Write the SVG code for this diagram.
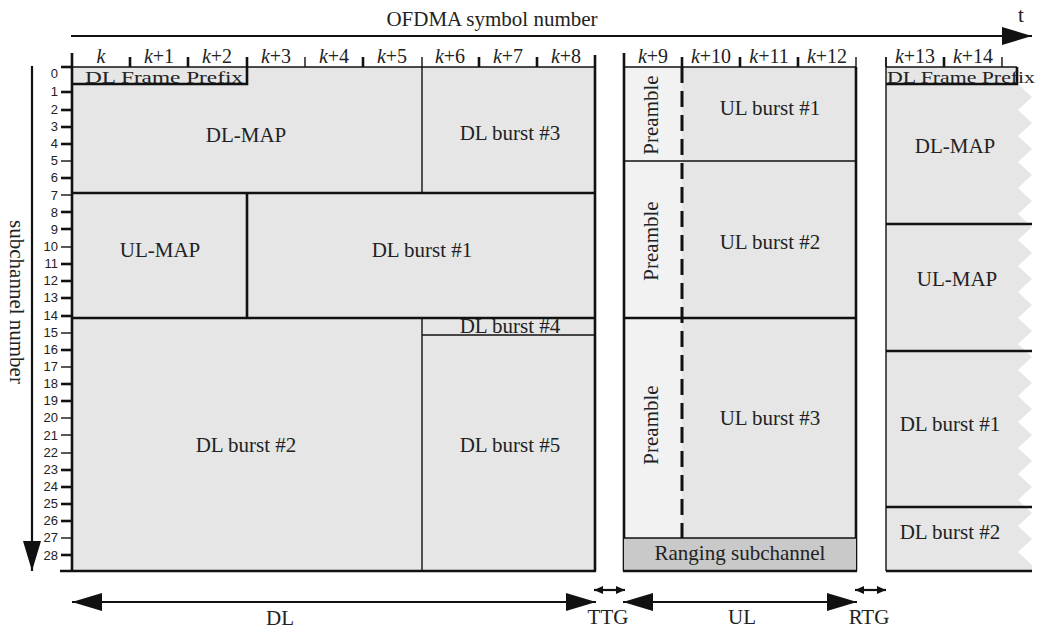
<svg xmlns="http://www.w3.org/2000/svg" width="1037" height="630" viewBox="0 0 1037 630">
<style>
.bg{fill:#ffffff}
.fill{fill:#e6e6e6}
.pre{fill:#f2f2f2}
.rng{fill:#c9c9c9}
.tk{stroke:#111;stroke-width:2.6;fill:none}
.tn{stroke:#111;stroke-width:1.4;fill:none}
.dash{stroke:#111;stroke-width:3;stroke-dasharray:16 8;fill:none}
.lbl{font-family:"Liberation Serif",serif;font-size:21px;fill:#222;text-anchor:middle}
.fp{font-family:"Liberation Serif",serif;font-size:16px;fill:#222}
.col{font-family:"Liberation Serif",serif;font-size:20px;fill:#222;text-anchor:middle}
.num{font-family:"Liberation Sans",sans-serif;font-size:13px;fill:#222;text-anchor:end}
.ar{stroke:#111;stroke-width:2.2;fill:none}
</style>
<defs>
<marker id="big" markerUnits="userSpaceOnUse" markerWidth="30" markerHeight="18" refX="30" refY="9" orient="auto-start-reverse">
<path d="M0,0 L30,9 L0,18 z" fill="#111"/>
</marker>
<marker id="small" markerUnits="userSpaceOnUse" markerWidth="9" markerHeight="8" refX="9" refY="4" orient="auto-start-reverse">
<path d="M0,0 L9,4 L0,8 z" fill="#111"/>
</marker>
</defs>
<rect class="bg" x="0" y="0" width="1037" height="630"/>

<!-- axes -->
<g id="axis-time">
<line class="ar" x1="71" y1="36" x2="1032" y2="36" marker-end="url(#big)"/>
<text class="lbl" x="492" y="26">OFDMA symbol number</text>
<text class="lbl" x="1021" y="22">t</text>
</g>
<g id="axis-subchannel">
<line class="ar" x1="32" y1="66" x2="32" y2="571" stroke-width="3" marker-end="url(#big)"/>
<text class="lbl" transform="translate(10,302) rotate(90)">subchannel number</text>
<g id="row-ticks">
<line class="tk" x1="61" y1="67" x2="72" y2="67"/>
<line class="tk" x1="61" y1="92" x2="72" y2="92"/>
<line class="tk" x1="61" y1="110" x2="72" y2="110"/>
<line class="tk" x1="61" y1="127" x2="72" y2="127"/>
<line class="tk" x1="61" y1="144" x2="72" y2="144"/>
<line class="tn" x1="61" y1="161" x2="72" y2="161"/>
<line class="tk" x1="61" y1="178" x2="72" y2="178"/>
<line class="tn" x1="61" y1="195" x2="72" y2="195"/>
<line class="tk" x1="61" y1="212" x2="72" y2="212"/>
<line class="tk" x1="61" y1="229" x2="72" y2="229"/>
<line class="tn" x1="61" y1="247" x2="72" y2="247"/>
<line class="tk" x1="61" y1="264" x2="72" y2="264"/>
<line class="tk" x1="61" y1="281" x2="72" y2="281"/>
<line class="tk" x1="61" y1="298" x2="72" y2="298"/>
<line class="tk" x1="61" y1="316" x2="72" y2="316"/>
<line class="tn" x1="61" y1="333" x2="72" y2="333"/>
<line class="tk" x1="61" y1="350" x2="72" y2="350"/>
<line class="tn" x1="61" y1="367" x2="72" y2="367"/>
<line class="tk" x1="61" y1="384" x2="72" y2="384"/>
<line class="tk" x1="61" y1="401" x2="72" y2="401"/>
<line class="tn" x1="61" y1="418" x2="72" y2="418"/>
<line class="tn" x1="61" y1="435" x2="72" y2="435"/>
<line class="tn" x1="61" y1="453" x2="72" y2="453"/>
<line class="tk" x1="61" y1="470" x2="72" y2="470"/>
<line class="tk" x1="61" y1="487" x2="72" y2="487"/>
<line class="tk" x1="61" y1="504" x2="72" y2="504"/>
<line class="tk" x1="61" y1="521" x2="72" y2="521"/>
<line class="tn" x1="61" y1="538" x2="72" y2="538"/>
<line class="tk" x1="61" y1="555" x2="72" y2="555"/>
</g>
<g id="row-numbers">
<text class="num" x="58" y="78">0</text>
<text class="num" x="58" y="96">1</text>
<text class="num" x="58" y="114">2</text>
<text class="num" x="58" y="131">3</text>
<text class="num" x="58" y="148">4</text>
<text class="num" x="58" y="165">5</text>
<text class="num" x="58" y="182">6</text>
<text class="num" x="58" y="200">7</text>
<text class="num" x="58" y="217">8</text>
<text class="num" x="58" y="234">9</text>
<text class="num" x="58" y="251">10</text>
<text class="num" x="58" y="268">11</text>
<text class="num" x="58" y="285">12</text>
<text class="num" x="58" y="302">13</text>
<text class="num" x="58" y="320">14</text>
<text class="num" x="58" y="337">15</text>
<text class="num" x="58" y="354">16</text>
<text class="num" x="58" y="371">17</text>
<text class="num" x="58" y="388">18</text>
<text class="num" x="58" y="405">19</text>
<text class="num" x="58" y="422">20</text>
<text class="num" x="58" y="440">21</text>
<text class="num" x="58" y="457">22</text>
<text class="num" x="58" y="474">23</text>
<text class="num" x="58" y="491">24</text>
<text class="num" x="58" y="508">25</text>
<text class="num" x="58" y="525">26</text>
<text class="num" x="58" y="542">27</text>
<text class="num" x="58" y="560">28</text>
</g>
</g>

<!-- column header -->
<g id="col-header">
<line class="tk" x1="130" y1="57" x2="130" y2="67"/>
<line class="tk" x1="188" y1="57" x2="188" y2="67"/>
<line class="tk" x1="247" y1="57" x2="247" y2="67"/>
<line class="tn" x1="305" y1="57" x2="305" y2="67"/>
<line class="tk" x1="363" y1="57" x2="363" y2="67"/>
<line class="tn" x1="422" y1="57" x2="422" y2="67"/>
<line class="tk" x1="479" y1="57" x2="479" y2="67"/>
<line class="tk" x1="537" y1="57" x2="537" y2="67"/>
<line class="tk" x1="682" y1="57" x2="682" y2="67"/>
<line class="tk" x1="740" y1="57" x2="740" y2="67"/>
<line class="tk" x1="798" y1="57" x2="798" y2="67"/>
<line class="tn" x1="856" y1="57" x2="856" y2="67"/>
<line class="tn" x1="886" y1="57" x2="886" y2="67"/>
<line class="tk" x1="944" y1="57" x2="944" y2="67"/>
<line class="tn" x1="1002" y1="57" x2="1002" y2="67"/>
<text class="col" x="101" y="63"><tspan font-style="italic">k</tspan></text>
<text class="col" x="159" y="63"><tspan font-style="italic">k</tspan>+1</text>
<text class="col" x="217" y="63"><tspan font-style="italic">k</tspan>+2</text>
<text class="col" x="276" y="63"><tspan font-style="italic">k</tspan>+3</text>
<text class="col" x="334" y="63"><tspan font-style="italic">k</tspan>+4</text>
<text class="col" x="392" y="63"><tspan font-style="italic">k</tspan>+5</text>
<text class="col" x="450" y="63"><tspan font-style="italic">k</tspan>+6</text>
<text class="col" x="508" y="63"><tspan font-style="italic">k</tspan>+7</text>
<text class="col" x="566" y="63"><tspan font-style="italic">k</tspan>+8</text>
<text class="col" x="653" y="63"><tspan font-style="italic">k</tspan>+9</text>
<text class="col" x="711" y="63"><tspan font-style="italic">k</tspan>+10</text>
<text class="col" x="769" y="63"><tspan font-style="italic">k</tspan>+11</text>
<text class="col" x="827" y="63"><tspan font-style="italic">k</tspan>+12</text>
<text class="col" x="915" y="63"><tspan font-style="italic">k</tspan>+13</text>
<text class="col" x="973" y="63"><tspan font-style="italic">k</tspan>+14</text>
</g>

<!-- DL subframe -->
<g id="dl-frame">
<rect class="fill" x="72" y="67" width="523" height="504"/>
<line class="tn" x1="72" y1="67" x2="595" y2="67"/>
<line class="tk" x1="72" y1="53" x2="72" y2="571"/>
<line class="tk" x1="595" y1="55" x2="595" y2="571"/>
<line class="tk" x1="60" y1="571" x2="596" y2="571" stroke-width="3"/>
</g>
<g id="dl-frame-prefix">
<path class="tk" d="M72,84 H247 V67"/>
<text class="fp" x="85" y="83" textLength="158" lengthAdjust="spacingAndGlyphs">DL Frame Prefix</text>
</g>
<g id="dl-map">
<line class="tk" x1="72" y1="193" x2="595" y2="193"/>
<text class="lbl" x="246" y="142">DL-MAP</text>
</g>
<g id="dl-burst-3">
<line class="tn" x1="422" y1="67" x2="422" y2="193"/>
<text class="lbl" x="510" y="140">DL burst #3</text>
</g>
<g id="ul-map">
<line class="tk" x1="247" y1="193" x2="247" y2="318"/>
<text class="lbl" x="160" y="257">UL-MAP</text>
</g>
<g id="dl-burst-1">
<line class="tk" x1="72" y1="318" x2="595" y2="318"/>
<text class="lbl" x="422" y="257">DL burst #1</text>
</g>
<g id="dl-burst-4">
<line class="tn" x1="422" y1="318" x2="422" y2="571"/>
<line class="tn" x1="422" y1="335" x2="595" y2="335"/>
<text class="lbl" x="510" y="333">DL burst #4</text>
</g>
<g id="dl-burst-2">
<text class="lbl" x="246" y="452">DL burst #2</text>
</g>
<g id="dl-burst-5">
<text class="lbl" x="510" y="452">DL burst #5</text>
</g>

<!-- UL subframe -->
<g id="ul-frame">
<rect class="fill" x="624" y="67" width="232" height="504"/>
<rect class="pre" x="624" y="67" width="58" height="471"/>
<line class="tn" x1="624" y1="67" x2="856" y2="67"/>
<line class="tk" x1="624" y1="53" x2="624" y2="571"/>
<line class="tk" x1="856" y1="67" x2="856" y2="571"/>
<line class="dash" x1="682" y1="67" x2="682" y2="538"/>
</g>
<g id="ul-burst-1">
<line class="tn" x1="624" y1="161" x2="856" y2="161"/>
<text class="lbl" x="770" y="115">UL burst #1</text>
<text class="lbl" transform="translate(658,115) rotate(-90)">Preamble</text>
</g>
<g id="ul-burst-2">
<line class="tk" x1="624" y1="318" x2="856" y2="318"/>
<text class="lbl" x="770" y="249">UL burst #2</text>
<text class="lbl" transform="translate(658,241) rotate(-90)">Preamble</text>
</g>
<g id="ul-burst-3">
<text class="lbl" x="770" y="425">UL burst #3</text>
<text class="lbl" transform="translate(658,425) rotate(-90)">Preamble</text>
</g>
<g id="ranging-subchannel">
<rect class="rng" x="624" y="538" width="232" height="33"/>
<line class="tn" x1="624" y1="538" x2="856" y2="538"/>
<line class="tk" x1="623" y1="571" x2="857" y2="571" stroke-width="3"/>
<text class="lbl" x="740" y="560">Ranging subchannel</text>
</g>

<!-- next DL subframe -->
<g id="next-dl-frame">
<polygon class="fill" points="886,67 1018,67 1018,84 1032,97 1018,110 1032,123 1018,136 1032,149 1018,162 1032,175 1018,188 1032,201 1018,214 1032,227 1018,240 1032,253 1018,266 1032,279 1018,292 1032,305 1018,318 1032,331 1018,344 1032,357 1018,370 1032,383 1018,396 1032,409 1018,422 1032,435 1018,448 1032,461 1018,474 1032,487 1018,500 1032,513 1018,526 1032,539 1018,552 1032,565 1032,571 886,571"/>
<line class="tn" x1="886" y1="67" x2="1017" y2="67"/>
<line class="tn" x1="886" y1="57" x2="886" y2="571"/>
</g>
<g id="next-dl-frame-prefix">
<path class="tk" d="M886,84 H1017 V67"/>
<text class="fp" x="887" y="83" textLength="148" lengthAdjust="spacingAndGlyphs">DL Frame Prefix</text>
</g>
<g id="next-dl-map">
<line class="tk" x1="886" y1="224" x2="1032" y2="224"/>
<text class="lbl" x="955" y="153">DL-MAP</text>
</g>
<g id="next-ul-map">
<line class="tk" x1="886" y1="351" x2="1032" y2="351"/>
<text class="lbl" x="957" y="286">UL-MAP</text>
</g>
<g id="next-dl-burst-1">
<line class="tk" x1="886" y1="507" x2="1032" y2="507"/>
<text class="lbl" x="950" y="431">DL burst #1</text>
</g>
<g id="next-dl-burst-2">
<line class="tk" x1="886" y1="571" x2="1032" y2="571" stroke-width="3"/>
<text class="lbl" x="950" y="539">DL burst #2</text>
</g>

<!-- bottom span arrows -->
<g id="connectors">
<line class="ar" x1="72" y1="602" x2="596" y2="602" marker-start="url(#big)" marker-end="url(#big)"/>
<line class="ar" x1="623" y1="602" x2="857" y2="602" marker-start="url(#big)" marker-end="url(#big)"/>
<line class="ar" x1="594" y1="590" x2="625" y2="590" marker-start="url(#small)" marker-end="url(#small)"/>
<line class="ar" x1="855" y1="590" x2="886" y2="590" marker-start="url(#small)" marker-end="url(#small)"/>
</g>
<g id="span-labels">
<text class="lbl" x="280" y="625">DL</text>
<text class="lbl" x="608" y="624">TTG</text>
<text class="lbl" x="742" y="624">UL</text>
<text class="lbl" x="869" y="624">RTG</text>
</g>
</svg>
